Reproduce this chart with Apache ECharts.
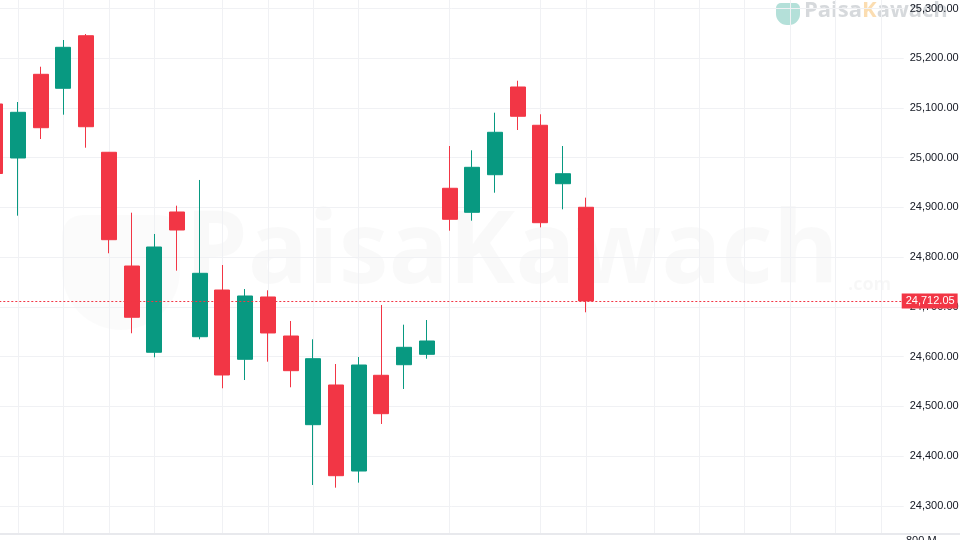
<!DOCTYPE html>
<html>
<head>
<meta charset="utf-8">
<script src="https://cdn.jsdelivr.net/npm/echarts@6/dist/echarts.min.js"></script>
<style>
html,body{margin:0;padding:0;background:#fff;}
#chart{width:960px;height:540px;}
</style>
</head>
<body>
<div id="chart"></div>
<script>
// ---- data (daily candles, left to right) ----
const days = ['D0','D1','D2','D3','D4','D5','D6','D7','D8','D9','D10','D11','D12','D13','D14','D15','D16','D17','D18','D19','D20','D21','D22','D23','D24','D25','D26',
  'F1','F2','F3','F4','F5','F6','F7','F8','F9','F10','F11','F12','F13','F14'];
const opens  = [25108.0, 24999.4, 25167.7, 25139.6, 25245.3, 25010.9, 24782.2, 24608.7, 24890.8, 24640.0, 24733.9, 24594.6, 24719.9, 24641.4, 24463.1, 24542.9, 24369.9, 24562.4, 24583.7, 24604.6, 24938.5, 24890.2, 24965.8, 25142.2, 25065.2, 24947.7, 24900.3];
const closes = [24968.2, 25091.3, 25060.3, 25222.0, 25062.3, 24835.1, 24679.1, 24820.4, 24854.6, 24767.5, 24563.0, 24721.9, 24647.5, 24571.7, 24595.8, 24360.5, 24583.1, 24485.2, 24618.7, 24631.4, 24876.1, 24980.7, 25051.1, 25083.3, 24869.3, 24967.8, 24712.05];
const lows   = [24951.0, 24883.4, 25037.6, 25086.5, 25020.1, 24807.8, 24646.9, 24598.6, 24772.8, 24634.8, 24536.3, 24552.9, 24589.8, 24538.3, 24341.8, 24336.4, 24346.5, 24464.5, 24534.9, 24595.8, 24853.2, 24873.3, 24929.6, 25055.7, 24860.0, 24896.2, 24689.1];
const highs  = [25126.0, 25112.0, 25183.0, 25236.7, 25248.7, 25011.5, 24889.4, 24846.6, 24903.5, 24955.2, 24784.2, 24735.9, 24733.3, 24671.6, 24634.8, 24585.1, 24599.2, 24703.8, 24664.2, 24673.6, 25023.5, 25014.9, 25090.5, 25154.8, 25087.3, 25023.5, 24919.6];
const lastPrice = 24712.05;
const gridDays = [1,3,5,7,10,12,14,16,20,24,26,29,31,33,35,37,39];
const priceMin = 24200, priceMax = 25400, priceStep = 100;

const UP = '#089981', DOWN = '#F23645';
function fmt(v){
  const s = Number(v).toFixed(2);
  const parts = s.split('.');
  parts[0] = parts[0].replace(/\B(?=(\d{3})+(?!\d))/g, ',');
  return parts.join('.');
}
const candleData = days.map((d,i)=> i < opens.length ? [opens[i], closes[i], lows[i], highs[i]] : '-');

const chart = echarts.init(document.getElementById('chart'), null, {renderer:'canvas'});
chart.setOption({
  animation:false,
  backgroundColor:'#ffffff',
  grid:{left:-4.7, width:908.4, top:-41.2, height:596.7, containLabel:false, outerBoundsMode:'none'},
  xAxis:{
    type:'category', data:days, boundaryGap:false,
    axisLine:{show:false}, axisTick:{show:false}, axisLabel:{show:false},
    splitLine:{show:true, interval:function(i){return gridDays.indexOf(i)>=0;}, lineStyle:{color:'#f0f1f4', width:1}}
  },
  yAxis:{
    type:'value', position:'right', min:priceMin, max:priceMax, interval:priceStep, scale:true,
    axisLine:{show:false}, axisTick:{show:false},
    axisLabel:{margin:6, color:'#131722', fontSize:11, fontFamily:'Liberation Sans, Arial, sans-serif', formatter:fmt},
    splitLine:{lineStyle:{color:'#f0f1f4', width:1}}
  },
  graphic:[
    {type:'text', z:-1, left:185, top:205, style:{text:'PaisaKawach', font:'bold 100px "Open Sans", sans-serif', fill:'rgba(0,0,0,0.025)'}},
    {type:'text', z:-1, left:848, top:276, style:{text:'.com', font:'bold 18px "Open Sans", sans-serif', fill:'rgba(0,0,0,0.03)'}},
    {type:'rect', z:-1, shape:{x:62, y:215, width:118, height:115, r:[20,20,60,60]}, style:{fill:'rgba(0,0,0,0.015)'}},
    {type:'rect', z:-1, shape:{x:776, y:3, width:24, height:22, r:[5,5,11,11]}, style:{fill:'rgba(8,153,129,0.3)'}},
    {type:'text', z:-1, left:804, top:0, style:{
      text:'{a|Paisa}{b|K}{a|awach}',
      rich:{a:{font:'bold 22px "Open Sans", sans-serif', fill:'rgba(120,130,140,0.3)'}, b:{font:'bold 22px "Open Sans", sans-serif', fill:'rgba(245,170,60,0.4)'}}
    }},
    {type:'line', z:5, shape:{x1:0, y1:534, x2:960, y2:534}, style:{stroke:'#e8e9ed', lineWidth:2}},
    {type:'rect', z:5, shape:{x:0, y:535, width:960, height:5}, style:{fill:'#ffffff'}},
    {type:'text', z:6, left:906, top:535, style:{text:'800 M', font:'11px "Liberation Sans", Arial, sans-serif', fill:'#131722'}}
  ],
  series:[{
    type:'candlestick', data:candleData, barWidth:15.5,
    itemStyle:{color:UP, color0:DOWN, borderColor:UP, borderColor0:DOWN, borderWidth:1}
  },{
    type:'line', name:'last', data:[], color:DOWN, z:3,
    markLine:{
      silent:true, symbol:['none','none'],
      data:[{yAxis:lastPrice}],
      lineStyle:{color:DOWN, type:[2,2], width:1, opacity:1},
      label:{show:true, position:'end', distance:-2, formatter:function(){return fmt(lastPrice);},
        backgroundColor:DOWN, color:'#ffffff', fontSize:11, fontFamily:'Liberation Sans, Arial, sans-serif', padding:[2,3,2,4]}
    }
  }]
});
</script>
</body>
</html>
